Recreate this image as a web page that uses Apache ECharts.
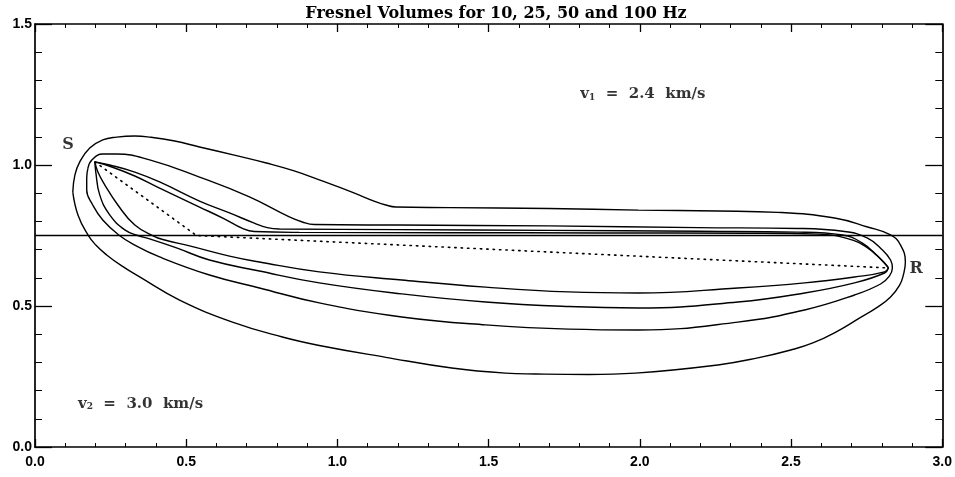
<!DOCTYPE html>
<html>
<head>
<meta charset="utf-8">
<script src="https://cdn.jsdelivr.net/npm/echarts@6/dist/echarts.min.js"></script>
<style>html,body{margin:0;padding:0;background:#fff}#c{width:955px;height:477px}</style>
</head>
<body>
<div id="c"></div>
<script>
const chartTitle = 'Fresnel Volumes for 10, 25, 50 and 100 Hz';

// Fresnel volume boundaries, [distance, height]
const loop10 = [
 [0.125,0.904],[0.132,0.965],[0.148,1.011],[0.181,1.060],[0.224,1.089],[0.270,1.099],[0.330,1.103],[0.379,1.099],
 [0.462,1.085],[0.544,1.064],[0.659,1.035],[0.765,1.007],[0.857,0.979],[0.940,0.947],[1.048,0.904],[1.121,0.872],
 [1.160,0.858],[1.193,0.851],[1.368,0.849],[1.698,0.846],[1.995,0.840],[2.258,0.837],[2.456,0.832],[2.644,0.812],
 [2.753,0.780],[2.829,0.752],[2.862,0.716],[2.878,0.656],[2.872,0.613],[2.859,0.574],[2.829,0.532],[2.786,0.496],
 [2.726,0.457],[2.654,0.411],[2.572,0.369],[2.499,0.344],[2.390,0.316],[2.258,0.291],[1.985,0.262],[1.830,0.257],
 [1.655,0.259],[1.556,0.262],[1.378,0.280],[1.160,0.318],[0.940,0.360],[0.818,0.390],[0.653,0.443],[0.478,0.521],
 [0.346,0.603],[0.287,0.642],[0.237,0.681],[0.201,0.716],[0.175,0.752],[0.142,0.823],[0.125,0.904]
];
const loop25 = [
 [0.175,0.989],[0.188,1.018],[0.224,1.039],[0.270,1.039],[0.379,1.018],[0.544,0.957],[0.709,0.887],[0.841,0.816],
 [0.884,0.798],[0.923,0.789],[1.203,0.787],[1.698,0.784],[2.192,0.778],[2.522,0.775],[2.677,0.764],[2.753,0.741],
 [2.802,0.699],[2.829,0.663],[2.835,0.635],[2.825,0.606],[2.796,0.578],[2.710,0.539],[2.545,0.486],[2.324,0.443],
 [1.995,0.415],[1.764,0.418],[1.490,0.433],[1.213,0.461],[0.940,0.511],[0.742,0.564],[0.577,0.610],[0.412,0.674],
 [0.330,0.716],[0.277,0.752],[0.224,0.805],[0.191,0.858],[0.171,0.911],[0.171,0.954],[0.175,0.989]
];
const upper50 = [
 [0.198,1.011],[0.247,1.000],[0.330,0.975],[0.412,0.940],[0.544,0.872],[0.643,0.830],[0.725,0.794],[0.768,0.778],
 [0.808,0.773],[1.203,0.771],[1.698,0.768],[2.192,0.765],[2.522,0.762],[2.670,0.752],[2.736,0.723],[2.786,0.677],
 [2.812,0.649],[2.822,0.635]
];
const lower50 = [
 [0.198,1.011],[0.201,0.975],[0.214,0.894],[0.247,0.823],[0.297,0.770],[0.340,0.750],[0.379,0.738],[0.468,0.706],
 [0.577,0.663],[0.742,0.624],[0.940,0.582],[1.213,0.543],[1.490,0.514],[1.764,0.498],[1.995,0.493],[2.324,0.514],
 [2.545,0.546],[2.710,0.582],[2.809,0.617],[2.822,0.635]
];
const upper100 = [
 [0.198,1.011],[0.254,0.993],[0.330,0.961],[0.412,0.918],[0.544,0.851],[0.626,0.809],[0.686,0.775],[0.725,0.764],
 [0.874,0.761],[1.368,0.760],[1.863,0.759],[2.357,0.758],[2.588,0.755],[2.687,0.739],[2.753,0.706],[2.799,0.663],
 [2.822,0.635]
];
const lower100 = [
 [0.198,1.011],[0.208,0.975],[0.231,0.929],[0.274,0.858],[0.330,0.787],[0.392,0.748],[0.429,0.734],[0.511,0.713],
 [0.643,0.677],[0.742,0.656],[0.940,0.621],[1.213,0.592],[1.490,0.567],[1.764,0.550],[1.995,0.546],[2.324,0.564],
 [2.545,0.582],[2.710,0.603],[2.809,0.621],[2.822,0.635]
];
// velocity interface and the refracted ray S -> interface -> R
const interfaceLine = [[0, 0.75], [3, 0.75]];
const rayPath = [[0.198,1.011],[0.534,0.75],[2.822,0.635]];

// text annotations in data coordinates
const annotations = [
 {id:'S', x:0.109, y:1.071},
 {id:'R', x:2.914, y:0.631},
 {id:'v1', x:1.803, y:1.255},
 {id:'v2', x:0.142, y:0.158}
];
const annotationText = {
 S: 'S',
 R: 'R',
 v1: '{v|v}{s|1}{t|  =  2.4  km/s}',
 v2: '{v|v}{s|2}{t|  =  3.0  km/s}'
};

const ink = '#000';
const curveStyle = {color: ink, width: 1.4};

function curveSeries(name, data) {
  return {name, type: 'line', data, showSymbol: false, smooth: 0.45, lineStyle: curveStyle,
          silent: true, animation: false, z: 3};
}

function xAxisCfg(pos, showLabel) {
  return {
    type: 'value', position: pos, min: 0, max: 3, interval: 0.5,
    axisLine: {show: true, onZero: false, lineStyle: {color: ink, width: 1.7}},
    axisTick: {show: true, inside: true, length: 8, lineStyle: {color: ink, width: 1.3}},
    minorTick: {show: true, splitNumber: 5, length: 4, lineStyle: {color: ink, width: 1}},
    splitLine: {show: false}, minorSplitLine: {show: false},
    axisLabel: {show: showLabel, margin: 8, color: ink, fontFamily: 'Liberation Sans', fontWeight: 'bold',
                fontSize: 14, formatter: v => v.toFixed(1)}
  };
}
function yAxisCfg(pos, showLabel) {
  return {
    type: 'value', position: pos, min: 0, max: 1.5, interval: 0.5,
    axisLine: {show: true, onZero: false, lineStyle: {color: ink, width: 1.7}},
    axisTick: {show: true, inside: true, length: 17, lineStyle: {color: ink, width: 1.3}},
    minorTick: {show: true, splitNumber: 5, length: 7, lineStyle: {color: ink, width: 1}},
    splitLine: {show: false}, minorSplitLine: {show: false},
    axisLabel: {show: showLabel, margin: 3, color: ink, fontFamily: 'Liberation Sans', fontWeight: 'bold',
                fontSize: 14, formatter: v => v.toFixed(1)}
  };
}

const serif = 'DejaVu Serif';
const richStyles = {
  v: {fontFamily: serif, fontSize: 15, color: ink, fontWeight: 'bold', verticalAlign: 'bottom', lineHeight: 18},
  s: {fontFamily: serif, fontSize: 9, color: ink, fontWeight: 'bold', verticalAlign: 'bottom', lineHeight: 12},
  t: {fontFamily: serif, fontSize: 15, color: ink, fontWeight: 'bold', verticalAlign: 'bottom', lineHeight: 18}
};

const annotationData = annotations.map(a => {
  const isVel = a.id.charAt(0) === 'v';
  return {
    value: [a.x, a.y], name: a.id,
    label: {
      show: true, formatter: annotationText[a.id],
      position: isVel ? 'right' : 'inside', distance: 0,
      fontFamily: serif, fontSize: 16, color: ink, fontWeight: 'bold',
      rich: richStyles
    }
  };
});

const chart = echarts.init(document.getElementById('c'), null, {renderer: 'canvas'});
chart.setOption({
  animation: false,
  backgroundColor: '#fff',
  title: {
    text: chartTitle, left: 491, top: 1, textAlign: 'center',
    textStyle: {fontFamily: serif, fontSize: 16, fontWeight: 'bold', color: ink}
  },
  grid: {left: 35, right: 10, top: 24, bottom: 30, containLabel: false},
  xAxis: [xAxisCfg('bottom', true), xAxisCfg('top', false)],
  yAxis: [yAxisCfg('left', true), yAxisCfg('right', false)],
  series: [
    curveSeries('10 Hz', loop10),
    curveSeries('25 Hz', loop25),
    curveSeries('50 Hz upper', upper50),
    curveSeries('50 Hz lower', lower50),
    curveSeries('100 Hz upper', upper100),
    curveSeries('100 Hz lower', lower100),
    {name: 'interface', type: 'line', data: interfaceLine, showSymbol: false,
     lineStyle: {color: ink, width: 1.6}, silent: true, z: 2},
    {name: 'ray', type: 'line', data: rayPath, showSymbol: false,
     lineStyle: {color: ink, width: 1.6, type: [1.4, 5], cap: 'round'}, silent: true, z: 2},
    {name: 'labels', type: 'scatter', data: annotationData, symbolSize: 0, silent: true, z: 5}
  ]
});
</script>
</body>
</html>
